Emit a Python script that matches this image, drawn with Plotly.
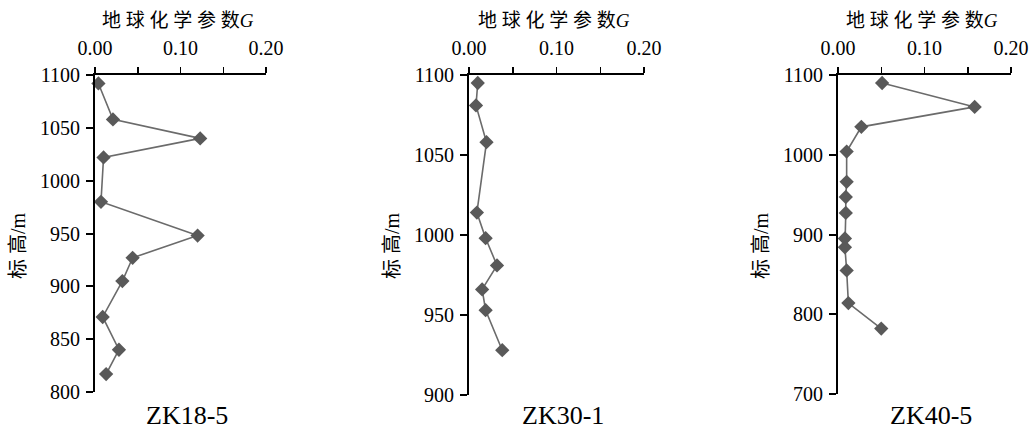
import plotly.graph_objects as go

# ---- data ----
zk18_5_G = [0.004, 0.021, 0.123, 0.010, 0.007, 0.120, 0.044, 0.032, 0.009, 0.028, 0.013]
zk18_5_elev = [1092, 1058, 1040, 1022, 980, 948, 927, 905, 871, 840, 817]

zk30_1_G = [0.010, 0.008, 0.020, 0.009, 0.019, 0.032, 0.015, 0.019, 0.038]
zk30_1_elev = [1095, 1081, 1058, 1014, 998, 981, 966, 953, 928]

zk40_5_G = [0.051, 0.158, 0.027, 0.010, 0.010, 0.009, 0.009, 0.008, 0.008, 0.010, 0.012, 0.050]
zk40_5_elev = [1090, 1060, 1035, 1004, 966, 947, 927, 895, 884, 855, 814, 782]

panel_names = ["ZK18-5", "ZK30-1", "ZK40-5"]
x_tickvals = [0, 0.05, 0.10, 0.15, 0.20]
x_ticktext = ["0.00", "", "0.10", "", "0.20"]
y_ranges = [[800, 1100], [900, 1100], [700, 1100]]
y_dticks = [50, 50, 100]
x_title = "地 球 化 学 参 数<i>G</i>"
y_title = "标 高/m"

W, H = 1035, 431
# plot area pixel boxes (left, right, top, bottom)
boxes = [(95, 266, 75, 392), (469, 644, 75, 395), (838, 1011, 75, 394)]

SERIF = "Liberation Serif, Times New Roman, serif"
MIXED = "Liberation Serif, Noto Sans CJK SC"

fig = go.Figure()
series = [(zk18_5_G, zk18_5_elev), (zk30_1_G, zk30_1_elev), (zk40_5_G, zk40_5_elev)]

for i, ((gx, ey), (l, r, t, b)) in enumerate(zip(series, boxes)):
    n = "" if i == 0 else str(i + 1)
    fig.add_trace(go.Scatter(
        x=gx, y=ey, mode="lines+markers",
        xaxis="x" + n, yaxis="y" + n,
        line=dict(color="#6b6b6b", width=1.6),
        marker=dict(symbol="diamond", size=11, color="#595959",
                    line=dict(width=0)),
        showlegend=False, cliponaxis=False,
    ))
    xd = [l / W, r / W]
    yd = [1 - b / H, 1 - t / H]
    fig.layout["xaxis" + n] = dict(
        domain=xd, anchor="y" + n, side="top", range=[0, 0.2],
        tickvals=x_tickvals, ticktext=x_ticktext,
        ticks="outside", ticklen=6, tickwidth=1.5, tickcolor="black",
        showline=True, linecolor="black", linewidth=2,
        showgrid=False, zeroline=False, automargin=False,
        tickfont=dict(family=SERIF, size=20, color="black"),
        ticklabelstandoff=4,
    )
    fig.layout["yaxis" + n] = dict(
        domain=yd, anchor="x" + n, range=y_ranges[i], dtick=y_dticks[i],
        tick0=y_ranges[i][0],
        ticks="outside", ticklen=7, tickwidth=2, tickcolor="black",
        showline=True, linecolor="black", linewidth=2,
        showgrid=False, zeroline=False, automargin=False,
        tickfont=dict(family=SERIF, size=20, color="black"),
        ticklabelstandoff=2,
    )
    cx = (l + r) / 2
    # top title
    fig.add_annotation(x=(cx - 3) / W, y=1 - 20 / H, xref="paper", yref="paper",
                       text=x_title, showarrow=False,
                       font=dict(family=MIXED, size=19, color="black"),
                       xanchor="center", yanchor="middle")
    # y title
    fig.add_annotation(x=(l - 77) / W, y=1 - 246 / H, xref="paper", yref="paper",
                       text=y_title, showarrow=False, textangle=-90,
                       font=dict(family=MIXED, size=20, color="black"),
                       xanchor="center", yanchor="middle")
    # bottom label
    fig.add_annotation(x=(cx + 6) / W, y=1 - 415 / H, xref="paper", yref="paper",
                       text=panel_names[i], showarrow=False,
                       font=dict(family=SERIF, size=26, color="black"),
                       xanchor="center", yanchor="middle")

fig.update_layout(
    width=W, height=H,
    margin=dict(l=0, r=0, t=0, b=0),
    paper_bgcolor="white", plot_bgcolor="white",
    hovermode=False,
)

fig.write_html("out.html",
               config={"displayModeBar": False, "staticPlot": True},
               post_script="document.body.style.margin='0';document.body.style.overflow='hidden';")
